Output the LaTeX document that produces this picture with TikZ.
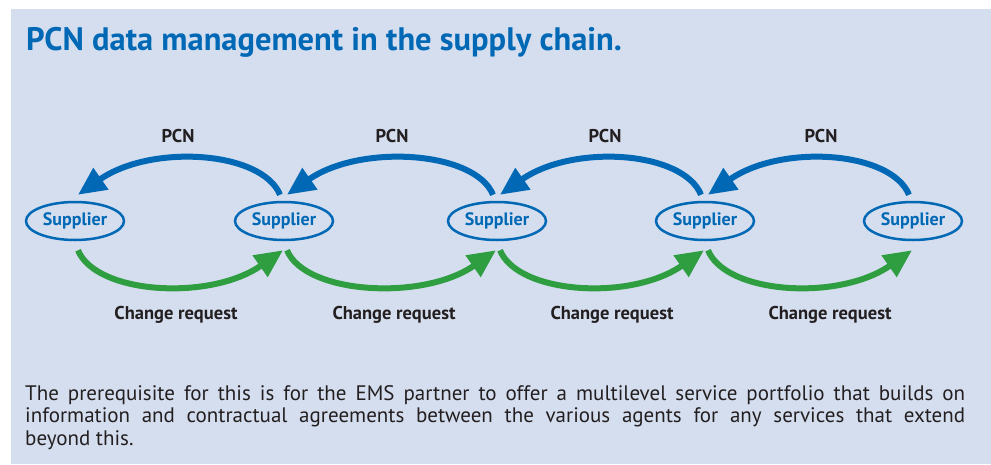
\documentclass[tikz,border=0pt]{standalone}
\usepackage{fontspec}
\setmainfont{PT Sans}
\usetikzlibrary{arrows.meta,shapes.geometric,positioning}
\definecolor{panelbg}{HTML}{D5DEEF}
\definecolor{pcnblue}{HTML}{0068B4}
\definecolor{crgreen}{HTML}{2F9E41}
\definecolor{txtgray}{HTML}{231F20}

\begin{document}
\begin{tikzpicture}[x=1pt,y=-1pt,
    supplier/.style={ellipse,draw=pcnblue,line width=2.5pt,minimum width=98pt,minimum height=38pt,inner sep=0pt,text=pcnblue,font=\fontsize{18}{20}\selectfont\bfseries},
    pcn/.style={pcnblue,line width=6pt,-{Triangle[length=28pt,width=25pt]}},
    chreq/.style={crgreen,line width=6pt,-{Triangle[length=28pt,width=25pt]}},
    lbl/.style={text=txtgray,font=\fontsize{18.5}{20}\selectfont\bfseries}]
  \useasboundingbox (0,0) rectangle (991,464);
  \fill[white] (0,0) rectangle (991,464);
  \fill[panelbg] (11,9) rectangle (991,464);
  % title
  \node[anchor=base west,inner sep=0pt,text=pcnblue,font=\fontsize{32.5}{36}\selectfont\bfseries] (title) at (26,50) {PCN data management in the supply chain.};
  % suppliers
  \foreach \i/\x in {1/75,2/284,3/497,4/705,5/913}
    \node[supplier] (s\i) at (\x,221) {Supplier};
  \foreach \i/\j in {1/2,2/3,3/4,4/5}{
    \draw[pcn] ([xshift=-4pt,yshift=6pt]s\j.north) .. controls +(-18,-44) and +(73,-51) .. ([xshift=3pt,yshift=6pt]s\i.north);
    \draw[chreq] ([xshift=3pt,yshift=-9pt]s\i.south) .. controls +(18,44) and +(-73,51) .. ([xshift=-1pt,yshift=-9pt]s\j.south);
  }
  % labels
  \foreach \x in {178,392,605,821}
    \node[lbl] at (\x,136) {PCN};
  \foreach \x in {176,394,612,830}
    \node[lbl] at (\x,315) {Change request};
  \node[anchor=north west,inner sep=0pt,text width=940pt,align=justify,text=txtgray,font=\fontsize{21}{22.5}\selectfont] (note) at (25,385)
    {The prerequisite for this is for the EMS partner to offer a multilevel service portfolio that builds on\linebreak information and contractual agreements between the various agents for any services that extend\linebreak beyond this.};
\end{tikzpicture}
\end{document}
